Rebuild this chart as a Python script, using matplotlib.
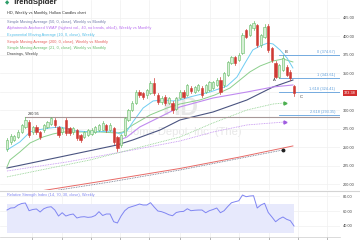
import matplotlib
matplotlib.use("Agg")
import matplotlib.pyplot as plt
from matplotlib.lines import Line2D

plt.rcParams['font.family'] = ['Liberation Sans', 'DejaVu Sans']

# weekly candles
opens = [247.7, 257.2, 259.9, 263.9, 270.7, 277.5, 284.2, 270.7, 277.5, 270.7,
         273.4, 277.5, 281.5, 286.9, 277.5, 270.7, 286.9, 276.1, 270.7, 273.4,
         266.6, 263.9, 266.6, 268.0, 270.7, 273.4, 274.0, 280.2, 273.4, 276.1,
         263.9, 253.1, 266.6, 286.9, 300.4, 309.9, 324.7, 323.4, 321.0, 323.4,
         336.9, 320.7, 311.2, 318.0, 309.9, 309.9, 302.0, 316.6, 324.7, 320.7,
         330.1, 324.7, 327.4, 330.1, 324.7, 327.4, 330.1, 334.2, 340.9, 334.2,
         347.7, 363.9, 372.0, 368.0, 377.4, 408.5, 401.7, 411.2, 415.3, 388.2,
         399.0, 413.9, 384.2, 363.9, 345.0, 354.5, 358.5, 352.0, 332.8]
closes = [259.9, 265.3, 265.3, 270.7, 280.2, 286.9, 266.6, 277.5, 270.7, 263.9,
          280.2, 284.2, 289.6, 280.2, 266.6, 276.1, 269.3, 269.3, 276.1, 262.6,
          259.9, 270.7, 273.4, 274.0, 277.5, 280.2, 282.9, 273.4, 280.2, 257.2,
          249.1, 266.6, 289.6, 300.4, 309.9, 324.7, 320.7, 318.0, 327.4, 336.9,
          323.4, 311.2, 316.6, 309.9, 316.6, 300.4, 316.0, 324.7, 318.0, 334.2,
          326.1, 331.5, 334.2, 320.7, 334.2, 338.2, 338.2, 340.9, 324.7, 350.4,
          365.3, 372.0, 363.9, 374.7, 401.7, 399.0, 415.3, 418.0, 388.2, 401.7,
          412.6, 381.5, 368.0, 345.0, 361.2, 370.7, 347.7, 343.0, 323.38]
highs = [262, 268, 267, 273, 282, 291, 287, 279, 280, 272,
         282, 286, 291, 289, 279, 278, 289, 278, 278, 275,
         268, 272, 275, 276, 279, 282, 285, 282, 283, 278,
         265, 268, 291, 302, 312, 327, 328, 325, 329, 339,
         343.6, 323, 319, 320, 318, 312, 318, 327, 327, 336,
         333, 333, 336, 333, 336, 340, 340, 343, 345, 352,
         367, 374, 374, 377, 404, 410, 417, 421, 417, 403,
         417, 416, 386, 366, 363, 374.7, 361, 354, 334]
lows = [245, 255, 258, 262, 269, 276, 264, 268, 268, 261,
        271, 276, 280, 278, 264, 268, 267, 266, 268, 260,
        257, 262, 265, 266, 269, 272, 273, 271, 272, 254,
        245, 251, 265, 285, 299, 308, 318, 315, 316, 322,
        321, 308, 309, 307, 308, 297, 300, 315, 316, 319,
        324, 323, 326, 318, 323, 326, 329, 333, 322, 332,
        346, 362, 361, 366, 376, 397, 400, 409, 386, 386,
        397, 379, 365, 343.6, 344, 353, 346, 341, 319]

rsi = [61.3, 64, 64.4, 68, 70, 70.7, 60.4, 62, 62.7, 58.7,
       63, 65, 65.7, 61.3, 53.3, 57.7, 53.3, 55, 56, 50.7,
       52, 52.4, 51.5, 52, 54, 59.1, 54, 56, 56, 45.7,
       44, 53.3, 60.4, 64.4, 66, 67.5, 69.3, 68, 68, 71.1,
       65.3, 60, 59.1, 57.3, 55, 53.7, 58, 59.1, 59.5, 63,
       60.4, 61, 61.3, 61.3, 57.7, 60.4, 62, 64, 57.7, 60.4,
       66, 71, 72.4, 73.7, 81.3, 79.1, 80, 80.4, 64, 68,
       70.3, 58, 52, 45.7, 49.5, 52, 48.9, 47.1, 40]

# indicator lines, sampled at bar positions
ema10_x = [0, 3.5, 6.25, 8.2, 11.7, 14.4, 19, 23.4, 28.8, 30.7, 32.6, 34.2, 37, 39.7,
           42.4, 45.1, 47, 49.7, 55.2, 59.8, 62.5, 64.7, 66.8, 68.8, 70.9, 72.3, 74.2, 76.1, 77.7]
ema10_y = [246.4, 257.2, 270.7, 273.4, 276.1, 277.5, 272, 270.7, 272, 268, 272, 284.2, 303.1, 312.6,
           313.9, 312.6, 313.9, 318, 324.7, 332.8, 345, 363.9, 381.5, 386.9, 390.9, 389.6, 381.5, 370.7, 357.2]
sma21_x = [0, 0.8, 3.5, 6.25, 9.8, 12.5, 15.2, 20.7, 25.3, 29.9, 31.5, 34.2, 38.9, 43.5,
           47, 52.4, 56.5, 60.6, 63.3, 66, 68.8, 72.3, 75, 77.7]
sma21_y = [223.4, 232.9, 243.7, 255.8, 263.9, 268, 270.7, 270.7, 270.7, 269.3, 270.7, 280.2, 293.7, 303.1,
           308.5, 313.9, 320.7, 330.1, 340.9, 351.8, 359.9, 366.6, 369.3, 365.3]
sma50_x = [0, 14.4, 29.9, 34.2, 41.6, 47, 56, 65.2, 72.3, 77.7]
sma50_y = [222, 236.9, 253.1, 259.9, 273.4, 286.9, 297.7, 313.9, 331.5, 340.9]
vwap_x = [30.7, 32.6, 36.1, 41.6, 47, 56, 65.2, 72.3, 77.7]
vwap_y = [259.9, 263.9, 277.5, 291, 304.5, 316.6, 324.7, 331.5, 334.2]
sma200_x = [8.2, 28, 47, 63.3, 77.7]
sma200_y = [190.3, 205.9, 221.4, 236.9, 251.8]
# monthly versions (dotted)
vwap_m_x = [0, 16.3, 34.2, 47, 56, 65.2, 75.5]
vwap_m_y = [218, 230.2, 246.4, 258.5, 270.7, 280.2, 284.2]
sma21_m_x = [0, 22.6, 47, 56, 65.2, 72.3, 75.5]
sma21_m_y = [210, 232.9, 263.9, 282.9, 300.4, 308.5, 309.9]
sma50_m_x = [9.8, 28, 47, 75]
sma50_m_y = [189, 203.1, 219.3, 246.4]

price_ticks = [200, 225, 250, 275, 300, 325, 350, 375, 400, 425]
rsi_ticks = [40, 60, 80]
grid_x = [6.8, 14.9, 22.8, 30.7, 38.6, 47, 55.2, 63, 71.2, 79.1, 86.9]

fib_names = ["0 (374.67)", "1 (343.61)", "1.618 (324.41)", "2.618 (293.35)"]
fib_levels = [374.67, 343.61, 324.41, 293.35]
level_line = 290.95
last_close = 323.38

C_NAVY = '#4a5480'
C_VWAP = '#c08af0'
C_EMA = '#6fcdf2'
C_RED = '#e86a67'
C_GREEN = '#8ccf8c'
C_FIB = '#5f9fdc'


def main():
    fig = plt.figure(figsize=(3.6, 2.4), dpi=100)
    ax = fig.add_axes([0, 1 - 190 / 240, 340 / 360, 190 / 240])
    ax2 = fig.add_axes([0, 3 / 240, 340 / 360, 46 / 240])
    n = len(closes)
    xmin, xmax = -1.9, 90.5

    # watermark
    ax.text(47, 303, "HD", fontsize=18, fontweight='bold', color='#e8e8e8',
            ha='center', va='center', zorder=0)
    ax.text(47.8, 270.7, "Home Depot, Inc. (The)", fontsize=8, color='#e8e8e8',
            ha='center', va='center', zorder=0)

    # indicators
    ax.plot(sma50_m_x, sma50_m_y, color='#6a6f85', lw=0.6, ls=(0, (1, 1)), zorder=2)
    ax.plot(sma200_x, sma200_y, color=C_RED, lw=0.7, zorder=2)
    ax.plot(vwap_m_x, vwap_m_y, color=C_VWAP, lw=0.6, ls=(0, (1, 1)), zorder=2)
    ax.plot(sma21_m_x, sma21_m_y, color=C_GREEN, lw=0.6, ls=(0, (1, 1)), zorder=2)
    ax.plot(sma50_x, sma50_y, color=C_NAVY, lw=0.8, zorder=2)
    ax.plot(vwap_x, vwap_y, color=C_VWAP, lw=0.8, zorder=2)
    ax.plot(sma21_x, sma21_y, color=C_GREEN, lw=0.7, zorder=2)
    ax.plot(ema10_x, ema10_y, color=C_EMA, lw=0.7, zorder=2)
    ax.plot([sma21_m_x[-1]], [sma21_m_y[-1]], marker='>', ms=2.2, color='#4caf50', zorder=3)
    ax.plot([vwap_m_x[-1]], [vwap_m_y[-1]], marker='>', ms=2.2, color='#a05ce0', zorder=3)
    ax.plot([sma50_m_x[-1]], [sma50_m_y[-1]], marker='o', ms=1.8, color='#222222', zorder=3)

    # drawings
    ax.plot([5, xmax], [level_line, level_line], color='#a89898', lw=0.8, zorder=2)
    ax.text(5.6, level_line + 1.5, "290.95", fontsize=2.8, color='#333333', va='bottom')
    for name, lvl in zip(fib_names, fib_levels):
        ax.plot([74, xmax], [lvl, lvl], color=C_FIB, lw=0.6, zorder=2)
        ax.text(89.2, lvl + 1.2, name, fontsize=2.8, color=C_FIB, ha='right', va='bottom')
    ax.text(72.6, 341.5, "A", fontsize=3, color='#333333', ha='center', va='center')
    ax.text(75.8, 378.8, "B", fontsize=3, color='#333333', ha='center', va='center')
    ax.text(80.2, 318, "C'", fontsize=3, color='#333333', ha='center', va='center')

    # candles
    for i in range(n):
        o, c, h, l = opens[i], closes[i], highs[i], lows[i]
        if c >= o:
            edge, face = '#66bb66', '#d6efd6'
        else:
            edge, face = '#cf3a34', '#cf3a34'
        ax.plot([i, i], [l, h], color=edge, lw=0.5, zorder=4)
        ax.bar(i, max(abs(c - o), 0.6), bottom=min(o, c), width=0.62,
               color=face, edgecolor=edge, linewidth=0.4, zorder=5)

    ax.set_xlim(xmin, xmax)
    ax.set_ylim(192.3, 449)
    ax.yaxis.tick_right()
    ax.set_yticks(price_ticks)
    ax.set_yticklabels([f"{t:.2f}" for t in price_ticks])
    ax.set_xticks(grid_x)
    ax.tick_params(axis='y', length=0, pad=2, labelsize=2.8, labelcolor='#444444')
    ax.tick_params(axis='x', length=0, labelbottom=False)
    ax.grid(color='#f0f0f0', lw=0.5, zorder=0)
    ax.set_axisbelow(True)
    for s in ax.spines.values():
        s.set_visible(False)
    ax.text(1.012, last_close, f"{last_close:.2f}", transform=ax.get_yaxis_transform(),
            fontsize=2.8, color='white', va='center', ha='left',
            bbox=dict(boxstyle='square,pad=0.3', fc='#d32f2f', ec='none'))

    # RSI panel
    ax2.fill_between([0, n - 1], 30, 70, color='#e7e9fc', lw=0, zorder=1)
    ax2.plot(range(n), rsi, color='#7f85f2', lw=0.7, zorder=3)
    ax2.set_xlim(xmin, xmax)
    ax2.set_ylim(25.3, 86.7)
    ax2.yaxis.tick_right()
    ax2.set_yticks(rsi_ticks)
    ax2.set_yticklabels([f"{t:.2f}" for t in rsi_ticks])
    ax2.set_xticks(grid_x)
    ax2.tick_params(axis='y', length=0, pad=2, labelsize=2.8, labelcolor='#444444')
    ax2.tick_params(axis='x', direction='out', length=3, width=0.5, color='#999999',
                    labelbottom=False)
    ax2.grid(color='#f0f0f0', lw=0.5, zorder=0)
    ax2.set_axisbelow(True)
    for k, s in ax2.spines.items():
        s.set_visible(k == 'bottom')
    ax2.spines['bottom'].set_color('#cccccc')
    ax2.spines['bottom'].set_linewidth(0.5)
    ax2.text(7 / 340, 1 - 4 / 46, "Relative Strength Index (14, 70, 30, close), Weekly",
             transform=ax2.transAxes, fontsize=2.8, color='#7f85f2', va='center')

    fig.add_artist(Line2D([0, 1], [1 - 191 / 240] * 2, color='#d4d4d4', lw=0.8))

    # header
    def ftext(x, y, s, **kw):
        fig.text(x / 360, 1 - y / 240, s, va='center', **kw)

    ftext(5, 3, "\u25c6", fontsize=4, color='#2e9e6a')
    ftext(13, 3, "TrendSpider", fontsize=5.5, fontweight='bold', color='#222222')
    ftext(7, 13, "HD, Weekly vs Monthly, Hollow Candles chart", fontsize=2.8, color='#333333')
    legend = [
        ("Simple Moving Average (50, 0, close), Weekly vs Monthly", '#6f79a8'),
        ("Alphatrends Anchored VWAP (highest vol., 40, no bands, ohlc4), Weekly vs Monthly", '#b86cf0'),
        ("Exponential Moving Average (10, 0, close), Weekly", '#4fbde8'),
        ("Simple Moving Average (200, 0, close), Weekly vs Monthly", '#e5605c'),
        ("Simple Moving Average (21, 0, close), Weekly vs Monthly", '#66bb6a'),
        ("Drawings, Weekly", '#444444'),
    ]
    for k, (s, col) in enumerate(legend):
        ftext(7, 22 + k * 6.5, s, fontsize=2.8, color=col)

    fig.savefig("out.png", dpi=100)


if __name__ == "__main__":
    main()
